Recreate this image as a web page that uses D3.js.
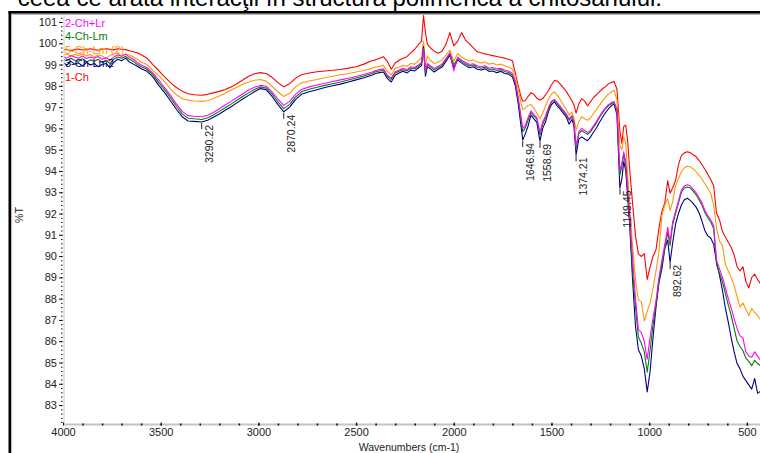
<!DOCTYPE html>
<html>
<head>
<meta charset="utf-8">
<script src="https://cdn.jsdelivr.net/npm/d3@7"></script>
<style>
  html, body { margin: 0; padding: 0; background: #fff; overflow: hidden; }
  svg { display: block; font-family: "Liberation Sans", Arial, sans-serif; }
</style>
</head>
<body>
<svg id="chart" width="760" height="453"></svg>
<script>
// FTIR overlay: wavenumber grid (cm-1) and %T for each sample
const wavenumbers = [
  4000,3980,3960,3940,3920,3900,3880,3860,3840,3820,3800,3780,3760,3740,3720,3700,3680,3660,3640,3620,3600,
  3570,3540,3510,3480,3450,3420,3390,3360,3330,3290,3260,3230,3200,3170,3140,3110,3080,3050,3020,2990,2960,2930,2900,2870,2840,2810,2780,2740,2700,2660,2620,2580,2540,2500,2460,2420,
  2400,2380,2360,2340,2320,2300,2280,2260,2240,2220,2200,2180,2165,2155,2145,2135,2120,2100,2080,2060,2040,2020,2000,1980,1960,1940,1920,1900,1880,1860,1840,1820,1800,1780,1760,1740,1720,1700,
  1685,1670,1655,1647,1635,1620,1605,1590,1575,1559,1545,1530,1515,1500,1485,1470,1455,1440,1425,1410,1395,1385,1374,1360,1345,1330,1315,1300,1285,1270,1255,1240,1225,1210,1195,1180,1165,1150,1140,1130,1120,1110,1100,
  1085,1070,1055,1040,1025,1010,995,980,965,950,935,920,905,893,880,865,850,835,820,805,790,775,760,745,730,715,700,685,670,655,640,625,610,595,580,565,550,535,520,505,490,475,460,445,430
];

const sample1Ch = [
  99.68,99.71,99.66,99.7,99.73,99.68,99.7,99.74,99.7,99.67,99.72,99.75,99.72,99.69,99.74,99.72,99.7,99.65,99.6,99.55,99.46,
  99.3,99.0,98.72,98.42,98.15,97.92,97.75,97.63,97.58,97.56,97.6,97.67,97.74,97.83,97.95,98.1,98.27,98.45,98.57,98.62,98.58,98.4,98.15,97.96,98.1,98.35,98.52,98.6,98.66,98.7,98.73,98.77,98.83,98.9,99.02,99.18,
  99.22,99.3,99.37,99.15,98.78,99.07,99.2,99.3,99.37,99.55,99.72,99.95,100.1,101.3,100.5,99.95,99.8,99.62,99.53,99.62,99.95,100.5,99.88,100.1,100.5,100.15,99.98,99.78,99.6,99.55,99.5,99.46,99.42,99.38,99.34,99.3,99.25,99.18,
  98.6,98.0,97.45,97.28,97.3,97.5,97.68,97.6,97.42,97.33,97.4,97.58,97.78,98.05,98.25,98.22,98.08,97.92,97.75,97.52,97.3,97.1,96.72,97.15,97.4,97.28,97.05,97.25,97.45,97.58,97.72,97.85,97.95,98.08,98.15,98.2,97.85,95.9,95.3,96.1,96.15,95.4,94.1,
  92.5,90.95,90.1,89.98,90.12,88.9,89.5,90.0,90.3,91.3,92.1,92.5,93.55,92.95,93.2,93.55,94.3,94.72,94.85,94.9,94.86,94.76,94.67,94.5,94.3,94.08,93.85,93.6,93.3,92.0,91.7,91.15,90.9,90.65,90.4,90.05,89.5,89.3,89.5,88.8,88.5,89.0,89.15,88.9,88.7
];

const sample2ChLr = [
  99.38,99.3,99.42,99.35,99.3,99.4,99.28,99.35,99.3,99.38,99.25,99.32,99.2,99.35,99.45,99.4,99.48,99.35,99.25,99.1,98.98,
  98.85,98.6,98.27,97.92,97.55,97.15,96.8,96.6,96.57,96.55,96.62,96.75,96.92,97.1,97.27,97.45,97.62,97.8,97.93,98.02,97.98,97.72,97.38,97.08,97.27,97.6,97.83,97.95,98.04,98.12,98.2,98.28,98.36,98.44,98.53,98.64,
  98.72,98.76,98.8,98.5,98.36,98.66,98.74,98.82,98.76,98.9,98.86,98.98,99.1,99.7,98.7,99.05,98.95,98.82,98.92,99.02,99.28,99.55,98.7,99.35,99.2,99.1,99.0,99.04,98.94,98.9,98.94,98.84,98.86,98.8,98.82,98.74,98.7,98.58,
  98.22,97.45,96.5,96.0,96.12,96.5,96.82,96.65,96.52,95.8,96.3,96.6,97.0,97.28,97.36,97.2,97.03,96.86,96.7,96.45,96.6,96.32,95.15,95.85,96.0,95.9,95.8,95.92,96.12,96.32,96.56,96.78,96.95,97.1,97.2,97.26,96.9,94.0,94.35,94.9,94.45,93.2,91.9,
  89.9,88.0,86.55,86.4,86.0,85.15,86.2,87.1,87.9,89.0,89.8,90.55,91.35,90.65,91.6,92.1,92.6,93.1,93.3,93.35,93.3,93.15,92.98,92.75,92.5,92.15,91.9,91.7,91.45,89.8,89.4,89.0,88.5,88.0,87.55,87.05,86.6,86.25,86.15,85.5,85.3,85.25,85.5,85.3,85.1
];

const sample3ChLm2 = [
  99.1,98.98,99.15,99.02,99.08,98.92,99.1,98.98,99.05,98.9,99.0,99.05,98.85,99.1,99.25,99.18,99.3,99.12,99.02,98.92,98.8,
  98.68,98.42,98.02,97.68,97.3,96.9,96.55,96.35,96.33,96.3,96.38,96.52,96.68,96.85,97.02,97.2,97.38,97.55,97.72,97.87,97.82,97.5,97.12,96.78,97.0,97.35,97.6,97.72,97.82,97.92,98.0,98.08,98.18,98.28,98.38,98.5,
  98.58,98.62,98.65,98.35,98.18,98.5,98.6,98.68,98.6,98.75,98.7,98.85,98.95,99.85,98.45,98.9,98.8,98.65,98.78,98.88,99.15,99.45,98.85,99.22,99.08,98.95,98.85,98.9,98.78,98.74,98.8,98.68,98.7,98.62,98.68,98.58,98.55,98.42,
  98.0,97.15,96.05,95.45,95.72,96.1,96.62,96.45,96.28,95.4,96.0,96.32,96.8,97.12,97.25,97.05,96.9,96.72,96.55,96.2,96.42,96.1,94.75,95.5,95.6,95.5,95.42,95.6,95.82,96.02,96.28,96.5,96.72,96.9,97.05,97.15,96.65,93.2,93.6,94.45,94.0,92.8,91.5,
  88.9,86.7,85.6,85.3,84.7,83.62,84.6,86.2,87.6,88.75,89.4,90.35,90.75,89.7,90.6,91.5,92.0,92.4,92.65,92.72,92.62,92.48,92.3,92.05,91.65,91.2,90.95,90.85,90.55,89.7,89.1,88.4,87.55,86.9,86.15,85.5,84.95,84.7,84.35,84.15,83.95,83.75,84.25,83.55,83.65
];

const sample4ChLm = [
  99.25,99.18,99.3,99.2,99.15,99.28,99.12,99.22,99.15,99.25,99.1,99.2,99.05,99.25,99.35,99.3,99.38,99.25,99.15,99.0,98.9,
  98.78,98.52,98.15,97.82,97.44,97.04,96.68,96.48,96.45,96.42,96.5,96.63,96.8,96.97,97.14,97.32,97.5,97.67,97.83,97.95,97.9,97.62,97.25,96.93,97.13,97.47,97.72,97.84,97.93,98.02,98.1,98.18,98.27,98.37,98.46,98.58,
  98.66,98.7,98.74,98.45,98.3,98.6,98.68,98.76,98.7,98.84,98.8,98.93,99.05,99.75,98.6,99.0,98.9,98.75,98.86,98.96,99.22,99.52,98.98,99.3,99.15,99.03,98.93,98.98,98.87,98.83,98.88,98.77,98.79,98.72,98.76,98.67,98.63,98.5,
  98.15,97.35,96.35,95.85,96.0,96.38,96.75,96.58,96.45,95.7,96.2,96.5,96.92,97.22,97.32,97.15,96.98,96.8,96.64,96.38,96.55,96.25,95.05,95.75,95.9,95.8,95.72,95.85,96.05,96.25,96.5,96.72,96.9,97.05,97.15,97.22,96.85,93.8,94.2,94.75,94.3,93.0,91.7,
  89.3,87.6,86.2,85.9,85.5,84.55,85.6,86.8,87.7,88.8,89.6,90.35,91.1,90.5,91.45,92.0,92.5,93.0,93.2,93.25,93.2,93.05,92.88,92.65,92.4,92.05,91.8,91.6,91.3,89.6,89.2,88.8,88.25,87.7,87.2,86.6,86.0,85.75,85.55,85.2,85.05,84.85,85.1,84.95,84.85
];

const sample5ChLm2 = [
  99.45,99.5,99.38,99.48,99.42,99.5,99.4,99.47,99.35,99.45,99.4,99.3,99.42,99.5,99.55,99.35,99.5,99.45,99.35,99.25,99.12,
  99.0,98.72,98.48,98.2,97.85,97.58,97.4,97.33,97.29,97.27,97.3,97.4,97.52,97.65,97.8,97.93,98.07,98.18,98.26,98.3,98.22,97.98,97.72,97.5,97.65,97.95,98.13,98.23,98.3,98.38,98.45,98.52,98.58,98.65,98.72,98.82,
  98.88,98.92,98.96,98.68,98.52,98.82,98.88,98.96,98.92,99.05,99.02,99.18,99.32,100.1,99.0,99.4,99.2,99.05,99.12,99.22,99.45,99.68,99.15,99.52,99.35,99.25,99.18,99.22,99.12,99.08,99.12,99.02,99.06,98.98,99.02,98.94,98.88,98.78,
  98.45,97.85,97.15,96.88,96.95,97.08,97.12,96.95,96.72,96.45,96.72,97.05,97.38,97.62,97.72,97.55,97.35,97.12,96.9,96.62,96.75,96.5,95.92,96.32,96.55,96.45,96.38,96.5,96.7,96.88,97.08,97.28,97.45,97.6,97.7,97.8,97.35,95.2,95.0,95.6,95.3,93.8,92.4,
  90.5,88.9,87.95,87.85,86.95,87.4,87.8,88.5,89.3,90.2,91.9,92.4,92.7,92.15,92.55,93.3,93.65,93.95,94.15,94.22,94.2,94.1,93.97,93.8,93.62,93.4,93.2,92.95,92.4,91.3,90.7,90.5,89.6,89.3,89.0,88.6,88.1,87.6,87.8,87.5,87.2,87.55,87.35,87.2,87.0
];

// legend entries, listed top to bottom
const legendNames  = ["2-Ch+Lr", "4-Ch-Lm", "5-Ch-Lm (2)", "3-Ch-Lm2", "1-Ch"];
const legendColors = ["#ff00ff", "#008000", "#ff9900", "#000080", "#ff0000"];

// marked absorption bands (cm-1)
const peakLabels = [3290.22, 2870.24, 1646.94, 1558.69, 1374.21, 1149.45, 892.62];

const xTickValues = [4000, 3500, 3000, 2500, 2000, 1500, 1000, 500];
const yTickValues = d3.range(83, 102, 1);

const series = [
  { name: "1-Ch",        values: sample1Ch,    color: "#ff0000" },
  { name: "5-Ch-Lm (2)", values: sample5ChLm2, color: "#ff9900" },
  { name: "3-Ch-Lm2",    values: sample3ChLm2, color: "#000080" },
  { name: "4-Ch-Lm",     values: sample4ChLm,  color: "#008000" },
  { name: "2-Ch+Lr",     values: sample2ChLr,  color: "#ff00ff" }
];

const svg = d3.select("#chart");
const x = d3.scaleLinear().domain([4000, 400]).range([63, 766.4]);
const y = d3.scaleLinear().domain([82.1, 101.3]).range([424.2, 15.6]);

// running text of the page above the figure
svg.append("text")
  .attr("x", 662).attr("y", 6)
  .attr("text-anchor", "end")
  .attr("font-size", 24)
  .attr("fill", "#000")
  .text("ceea ce arată interacţii în structura polimerică a chitosanului.");

// figure frame
svg.append("rect").attr("x", 8.5).attr("y", 11).attr("width", 760).attr("height", 2.6).attr("fill", "#000");
svg.append("rect").attr("x", 8.5).attr("y", 11).attr("width", 2.6).attr("height", 450).attr("fill", "#000");
svg.append("line").attr("x1", 11).attr("x2", 760).attr("y1", 14.5).attr("y2", 14.5)
  .attr("stroke", "#b4b4b4").attr("stroke-width", 1);
svg.append("line").attr("x1", 11.6).attr("x2", 11.6).attr("y1", 14).attr("y2", 453)
  .attr("stroke", "#b4b4b4").attr("stroke-width", 1);

// plot boundary lines
svg.append("line").attr("x1", 64).attr("x2", 64).attr("y1", 15).attr("y2", 424)
  .attr("stroke", "#c8c8c8").attr("stroke-width", 1);
svg.append("line").attr("x1", 63).attr("x2", 760).attr("y1", 424.5).attr("y2", 424.5)
  .attr("stroke", "#c4c4c4").attr("stroke-width", 2);

// y axis: labelled ticks and dotted minor ticks
const yAxis = svg.append("g").attr("transform", "translate(62.5,0)")
  .call(d3.axisLeft(y).tickValues(yTickValues).tickSize(3.5).tickPadding(2).tickFormat(d3.format("d")));
yAxis.select(".domain").remove();
yAxis.selectAll("line").attr("stroke", "#111");
yAxis.selectAll("text").attr("font-size", 11).attr("fill", "#222").attr("font-family", "Liberation Sans, Arial, sans-serif");

const yMinor = svg.append("g").attr("transform", "translate(62.5,0)")
  .call(d3.axisLeft(y).tickValues(d3.range(82.2, 101.25, 0.2)).tickSize(1.5).tickFormat(""));
yMinor.select(".domain").remove();
yMinor.selectAll("line").attr("stroke", "#111");

// x axis: labelled ticks and minor dots every 100 cm-1
const xAxis = svg.append("g").attr("transform", "translate(0,424.5)")
  .call(d3.axisBottom(x).tickValues(xTickValues).tickSizeInner(-3).tickSizeOuter(0).tickPadding(4).tickFormat(d3.format("d")));
xAxis.select(".domain").remove();
xAxis.selectAll("line").attr("stroke", "#111").attr("transform", "translate(0,1)");
xAxis.selectAll("text").attr("font-size", 11).attr("fill", "#222").attr("font-family", "Liberation Sans, Arial, sans-serif");

const xMinor = svg.append("g").attr("transform", "translate(0,425.5)")
  .call(d3.axisBottom(x).tickValues(d3.range(3900, 450, -100)).tickSizeInner(-2).tickSizeOuter(0).tickFormat(""));
xMinor.select(".domain").remove();
xMinor.selectAll("line").attr("stroke", "#111").attr("stroke-width", 1.6);

// axis titles
svg.append("text")
  .attr("x", 409).attr("y", 451)
  .attr("text-anchor", "middle")
  .attr("font-size", 10.5).attr("fill", "#222")
  .text("Wavenumbers (cm-1)");
svg.append("text")
  .attr("transform", "translate(23,215) rotate(-90)")
  .attr("text-anchor", "middle")
  .attr("font-size", 10.5).attr("fill", "#222")
  .text("%T");

// spectra
svg.append("defs").append("clipPath").attr("id", "plotClip")
  .append("rect").attr("x", 64.5).attr("y", 15).attr("width", 700).attr("height", 409);

const line = d3.line()
  .x((d, i) => x(wavenumbers[i]))
  .y(d => y(d))
  .defined((d, i) => d != null && wavenumbers[i] != null);

const plot = svg.append("g").attr("clip-path", "url(#plotClip)");
plot.selectAll("path.spectrum")
  .data(series)
  .join("path")
  .attr("class", "spectrum")
  .attr("d", d => line(d.values))
  .attr("fill", "none")
  .attr("stroke", d => d.color)
  .attr("stroke-width", 1.1)
  .attr("stroke-linejoin", "round");

// legend
svg.append("g").selectAll("text")
  .data(legendNames)
  .join("text")
  .attr("x", 65)
  .attr("y", (d, i) => 26.5 + i * 13.5)
  .attr("font-size", 11)
  .attr("fill", (d, i) => legendColors[i])
  .text(d => d);

// band labels hang below the lowest trace
function lowestAt(w) {
  for (let i = 0; i < wavenumbers.length - 1; i++) {
    const a = wavenumbers[i], b = wavenumbers[i + 1];
    if (w <= a && w >= b) {
      const t = (a - w) / (a - b);
      return sample3ChLm2[i] + (sample3ChLm2[i + 1] - sample3ChLm2[i]) * t;
    }
  }
  return sample3ChLm2[sample3ChLm2.length - 1];
}

const peaks = svg.append("g").selectAll("g")
  .data(peakLabels)
  .join("g")
  .attr("transform", d => `translate(${x(d)},${y(lowestAt(d))})`);
peaks.append("line")
  .attr("x1", 0).attr("x2", 0).attr("y1", 1).attr("y2", 7)
  .attr("stroke", "#222").attr("stroke-width", 1);
peaks.append("text")
  .attr("transform", "translate(11,3) rotate(-90)")
  .attr("text-anchor", "end")
  .attr("font-size", 10.5)
  .attr("fill", "#222")
  .text(d => d.toFixed(2));
</script>
</body>
</html>
